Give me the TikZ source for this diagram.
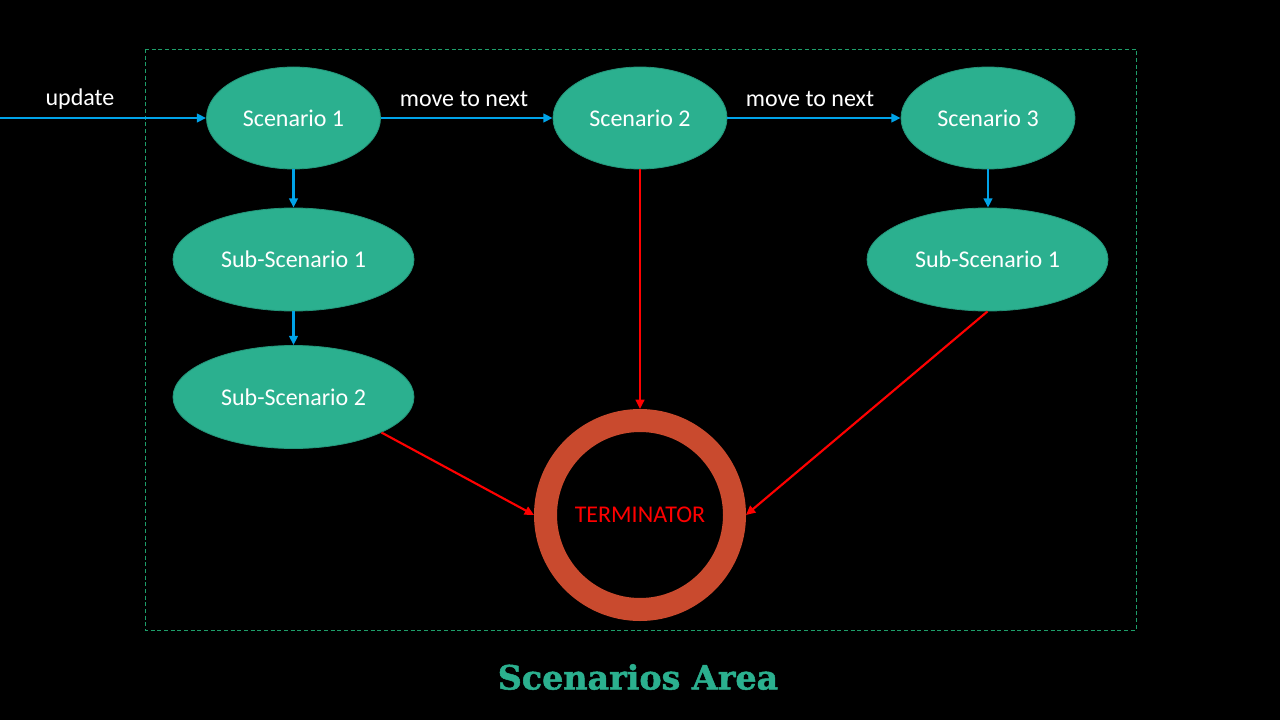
\documentclass[tikz,border=0pt]{standalone}
\usepackage{fontspec}
\setmainfont{Carlito}
\newfontfamily\titlefont[BoldFeatures={FakeBold=1.5}]{DejaVu Serif}
\usetikzlibrary{shapes.geometric,arrows.meta}
\definecolor{teal}{HTML}{2BB08F}
\definecolor{tealedge}{HTML}{23967A}
\definecolor{flowblue}{HTML}{00A3E8}
\definecolor{ringred}{HTML}{C94A2E}
\definecolor{framegreen}{HTML}{1E9E6A}
\tikzset{
  scen/.style={ellipse, fill=teal, draw=tealedge, line width=0.6pt, minimum width=130.5pt, minimum height=76.5pt, inner sep=0pt, text=white, font=\fontsize{18}{21}\selectfont},
  subscen/.style={scen, minimum width=180.75pt, minimum height=77.25pt},
  blueflow/.style={draw=flowblue, line width=1.6pt, -{Triangle[length=7pt,width=6.5pt]}},
  redflow/.style={draw=red, line width=1.6pt, -{Triangle[length=7pt,width=6.5pt]}},
  flowlabel/.style={text=white, font=\fontsize{18}{21}\selectfont, inner sep=0pt},
}
\begin{document}
\begin{tikzpicture}[x=0.75pt,y=-0.75pt]
\fill[black] (0,0) rectangle (1280,720);
\useasboundingbox (0,0) rectangle (1280,720);
\draw[framegreen, dashed, line width=0.6pt, dash pattern=on 3pt off 2pt] (145,49) rectangle (1136,630);

\node[scen] (s1) at (293.5,118) {Scenario 1};
\node[scen] (s2) at (640,118) {Scenario 2};
\node[scen] (s3) at (988,118) {Scenario 3};
\node[subscen] (ls1) at (293.5,259.5) {Sub-Scenario 1};
\node[subscen] (ls2) at (293.5,397) {Sub-Scenario 2};
\node[subscen] (rs1) at (987.5,259.5) {Sub-Scenario 1};

\node[circle, draw=ringred, line width=17.25pt, minimum size=141.75pt, inner sep=0pt, outer sep=8.6pt, text=red, font=\fontsize{18}{21}\selectfont] (term) at (640,515) {TERMINATOR};

\coordinate (start) at (0,118);
\draw[blueflow] (start) -- (s1);
\draw[blueflow] (s1) -- (s2);
\draw[blueflow] (s2) -- (s3);
\draw[blueflow] (s1.south) -- (ls1.north);
\draw[blueflow] (ls1.south) -- (ls2.north);
\draw[blueflow] (s3.south) -- (s3.south |- rs1.north);

\draw[redflow] (s2.south) -- (term.north);
\draw[redflow] (ls2.-22.7) -- (term.west);
\draw[redflow] (rs1.south) -- (term.east);

\node[flowlabel] (lupd) at (80,99) {update};
\node[flowlabel] (lm1) at (464,99) {move to next};
\node[flowlabel] (lm2) at (810,99) {move to next};

\node[text=teal, font=\titlefont\bfseries\fontsize{25}{30}\selectfont, inner sep=0pt] (title) at (638,677) {Scenarios Area};
\end{tikzpicture}
\end{document}
